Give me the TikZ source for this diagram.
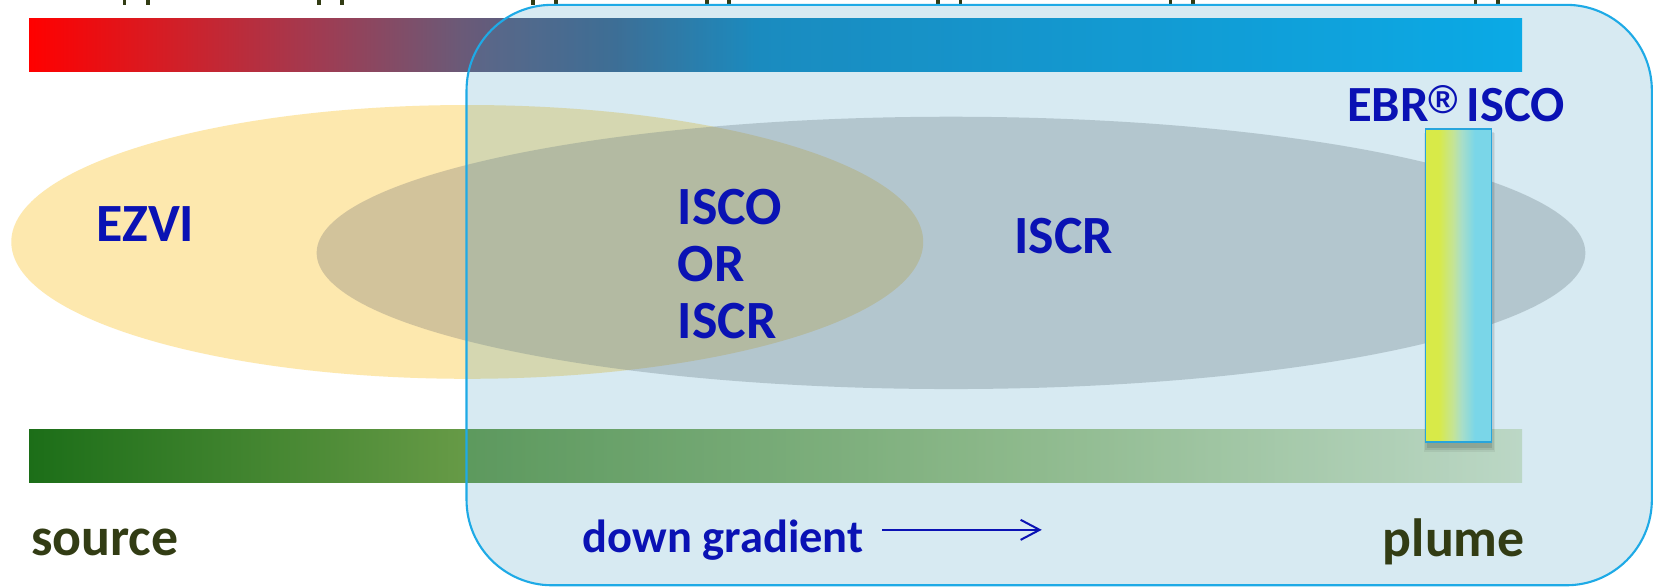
\documentclass[tikz,border=0pt]{standalone}
\usepackage{fontspec}
\setmainfont{Carlito}
\newfontfamily\regfont{Liberation Sans}
\usetikzlibrary{arrows.meta}
\definecolor{lblue}{RGB}{10,18,180}
\definecolor{olivetxt}{RGB}{50,60,20}
\definecolor{ezvifill}{RGB}{253,232,174}
\definecolor{iscrfill}{RGB}{120,118,118}
\definecolor{boxfill}{RGB}{55,150,190}
\definecolor{boxline}{RGB}{30,170,230}
\definecolor{ebrline}{RGB}{40,165,220}
% top bar colours
\definecolor{tbA}{RGB}{255,0,0}
\definecolor{tbB}{RGB}{216,27,34}
\definecolor{tbC}{RGB}{162,58,80}
\definecolor{tbD}{RGB}{106,90,120}
\definecolor{tbE}{RGB}{64,100,139}
\definecolor{tbF}{RGB}{19,137,192}
\definecolor{tbG}{RGB}{0,175,240}
% green bar colours
\definecolor{gbA}{RGB}{28,110,24}
\definecolor{gbB}{RGB}{102,154,70}
\definecolor{gbC}{RGB}{161,193,125}
\definecolor{gbD}{RGB}{221,232,200}
% EBR bar colours
\definecolor{ebA}{RGB}{216,234,72}
\definecolor{ebB}{RGB}{196,228,150}
\definecolor{ebC}{RGB}{168,222,200}
\definecolor{ebD}{RGB}{122,214,232}
\pgfdeclarehorizontalshading{topbar}{100bp}{color(0bp)=(tbA); color(25bp)=(tbA); color(29.2bp)=(tbB); color(34.5bp)=(tbC); color(39.5bp)=(tbD); color(44.5bp)=(tbE); color(49.5bp)=(tbF); color(75bp)=(tbG); color(100bp)=(tbG)}
\pgfdeclarehorizontalshading{greenbar}{100bp}{color(0bp)=(gbA); color(25bp)=(gbA); color(39.5bp)=(gbB); color(57.5bp)=(gbC); color(75bp)=(gbD); color(100bp)=(gbD)}
\pgfdeclarehorizontalshading{ebrbar}{100bp}{color(0bp)=(ebA); color(35bp)=(ebA); color(46bp)=(ebB); color(52.5bp)=(ebC); color(62.5bp)=(ebD); color(100bp)=(ebD)}
\begin{document}
\begin{tikzpicture}[x=1pt,y=1pt,
  lbl/.style={anchor=base west, inner sep=0pt, text=lblue, font=\fontsize{51}{57}\selectfont\bfseries},
  endlbl/.style={anchor=base west, inner sep=0pt, text=olivetxt, font=\fontsize{51}{57}\selectfont\bfseries}]
\useasboundingbox (0,0) rectangle (1568,556);
\fill[white] (0,0) rectangle (1568,556);
% cut-off descenders of a line above the picture
\foreach \mx in {118,140,302,324,505,527,670,691,889,910,1109,1130,1398,1419}
  \fill[olivetxt] (\mx-1.8,551.4) rectangle (\mx+1.8,556);
% gradient bars
\shade[shading=topbar] (27.5,488) rectangle (1442,538);
\shade[shading=greenbar] (27.5,99) rectangle (1442,149);
% ellipses
\fill[ezvifill] (442.7,326.8) ellipse [x radius=432, y radius=129.7];
\fill[iscrfill, fill opacity=0.32] (901,316.4) ellipse [x radius=601, y radius=129];
% translucent rounded box
\draw[draw=boxline, line width=2, fill=boxfill, fill opacity=0.2, rounded corners=81] (442,1.5) rectangle (1565,551.4);
% EBR bar with soft shadow
\fill[black, opacity=0.06] (1349,128) rectangle (1416,430);
\fill[black, opacity=0.08] (1350.5,130) rectangle (1415,431);
\fill[black, opacity=0.10] (1352,132) rectangle (1414,432);
\shade[shading=ebrbar, draw=ebrline, line width=1.5] (1350.4,137.4) rectangle (1412.9,433.8);
% labels
\node[lbl] (ezvi) at (91,327) {EZVI};
\node[lbl] (isco) at (642,343) {ISCO};
\node[lbl] (or) at (642,289) {OR};
\node[lbl] (iscr1) at (642,235) {ISCR};
\node[lbl] (iscr2) at (961,316) {ISCR};
\node[lbl, font=\fontsize{48}{56}\selectfont\bfseries] (ebr) at (1276,440.5)
  {EBR\kern0pt\raisebox{8pt}{\regfont\bfseries\fontsize{38}{40}\selectfont ®}\kern8pt ISCO};
\node[endlbl] (source) at (29.4,29.5) {source};
\node[endlbl] (plume) at (1310,28.5) {plume};
\node[lbl, font=\fontsize{44}{52}\selectfont\bfseries] (down) at (552,33) {down gradient};
\coordinate (arrA) at (836,54);
\coordinate (arrB) at (987,54);
\draw[lblue, line width=1.9, -{Straight Barb[length=18, width=19]}] (arrA) -- (arrB);
\end{tikzpicture}
\end{document}
